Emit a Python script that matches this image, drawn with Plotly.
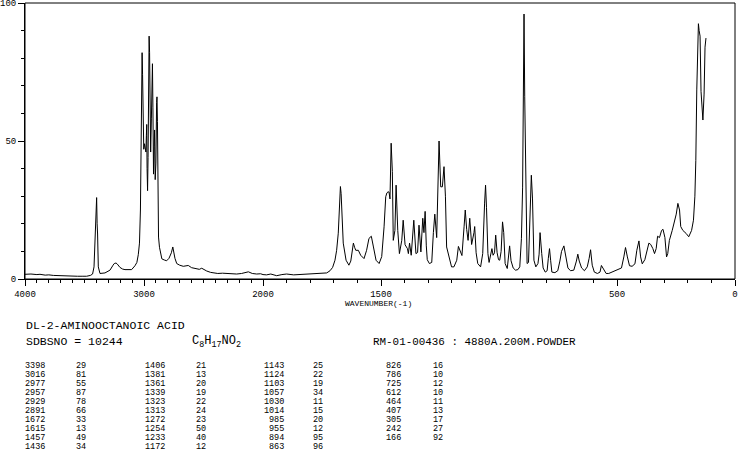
import plotly.graph_objects as go

# ---------------- data ----------------
WN_HIGH = [4000, 3950, 3900, 3874, 3830, 3800, 3762, 3720, 3690, 3650, 3600, 3560, 3520, 3482,
           3450, 3432, 3420, 3410, 3404, 3398, 3394, 3390, 3384, 3370, 3328, 3286, 3260, 3250,
           3235, 3224, 3202, 3180, 3160, 3104, 3076, 3060, 3048, 3038, 3030, 3022, 3018, 3016,
           3012, 3008, 3002, 2996, 2990, 2984, 2980, 2977, 2974, 2970, 2966, 2961, 2957, 2953,
           2948, 2944, 2938, 2932, 2929, 2925, 2920, 2915, 2911, 2906, 2900, 2894, 2891, 2887,
           2882, 2878, 2870, 2860, 2850, 2830, 2810, 2790, 2770, 2758, 2748, 2740, 2725, 2700,
           2670, 2645, 2628, 2600, 2580, 2557, 2535, 2515, 2495, 2473, 2440, 2417, 2380, 2340,
           2305, 2260, 2221, 2180, 2150, 2123, 2090, 2053, 2020, 2000]
INT_HIGH = [1.7, 1.8, 1.6, 1.7, 1.4, 1.5, 1.3, 1.2, 1.3, 1.0, 1.1, 1.0, 1.0, 1.0,
            1.3, 1.8, 4.4, 18.9, 26, 29.5, 20, 16.3, 4.4, 2.0, 2.2, 3.2, 5.0, 5.6,
            5.8, 5.4, 4.2, 3.6, 3.4, 3.4, 4.8, 6.0, 8.8, 13, 25, 60, 80, 82,
            74, 50, 47, 49, 48, 46, 52, 56, 40, 32, 44, 80, 88, 82,
            55, 46, 58, 76, 78, 62, 38, 48, 54, 36, 42, 64, 66, 57,
            30, 15.2, 11.5, 9.0, 7.3, 6.9, 6.6, 7.5, 9.5, 11.6, 9.0, 7.5, 5.6, 5.0,
            4.6, 4.7, 4.9, 4.1, 3.9, 3.8, 3.5, 3.9, 3.3, 2.9, 2.4, 2.2, 2.0, 2.1,
            2.0, 1.9, 1.8, 2.0, 2.3, 2.6, 2.0, 1.8, 1.9, 1.6]

WN_LOW = [2000, 1985, 1967, 1955, 1942, 1920, 1900, 1870, 1850, 1829, 1800, 1772, 1750, 1730,
          1716, 1705, 1695, 1688, 1681, 1677, 1674, 1672, 1669, 1665, 1660, 1648, 1636, 1628,
          1624, 1617, 1612, 1607, 1596, 1586, 1572, 1561, 1551, 1541, 1532, 1521, 1508, 1497,
          1487, 1480, 1475, 1470, 1466, 1462, 1457, 1452, 1448, 1441, 1436, 1429, 1422, 1412,
          1406, 1398, 1388, 1384, 1379, 1372, 1361, 1352, 1345, 1339, 1331, 1323, 1318, 1313,
          1308, 1304, 1295, 1285, 1278, 1272, 1264, 1258, 1254, 1247, 1240, 1233, 1227, 1222,
          1210, 1201, 1191, 1179, 1172, 1162, 1157, 1148, 1143, 1137, 1131, 1124, 1116, 1106,
          1103, 1097, 1090, 1078, 1069, 1061, 1057, 1053, 1047, 1042, 1036, 1030, 1025, 1019,
          1014, 1008, 1002, 997, 991, 985, 980, 974, 965, 960, 955, 949, 940, 930,
          920, 912, 905, 900, 897, 894, 891, 888, 884, 881, 875, 869, 866, 863,
          858, 852, 844, 835, 830, 826, 819, 813, 804, 796, 791, 786, 781, 776,
          763, 751, 742, 735, 725, 718, 708, 697, 683, 672, 666, 660, 650, 638,
          626, 618, 612, 605, 596, 583, 572, 566, 561, 555, 546, 535, 521, 499,
          481, 471, 464, 456, 447, 436, 424, 416, 407, 400, 393, 382, 372, 365,
          357, 348, 341, 334, 328, 320, 311, 305, 297, 290, 285, 278, 266, 256,
          249, 242, 235, 230, 221, 207, 196, 184, 176, 170, 166, 162, 158, 155,
          152, 148, 144, 140, 136, 131, 127, 123]
INT_LOW = [1.6, 1.5, 1.8, 1.4, 1.2, 1.6, 1.8, 1.5, 1.6, 1.7, 2.0, 2.0, 2.1, 2.2,
           3.0, 4.2, 6.8, 10.4, 16.6, 25, 31, 33.5, 31, 25, 13, 6.8, 5.0, 6.5,
           9.3, 13.0, 11.5, 10.4, 10.4, 8.6, 7.4, 10.4, 14.7, 15.5, 11.6, 6.8, 5.6, 8.1,
           18.9, 29.8, 31.2, 31.6, 31.5, 29, 49.2, 39, 14, 17.6, 34, 17.6, 9.2, 14,
           21.3, 12.4, 11, 9.2, 13, 8.6, 21.3, 9.2, 9.6, 19.5, 9.8, 22, 16.8, 24.5,
           12, 7, 5.6, 6, 16.8, 23.5, 15, 35.8, 50, 33.4, 33.4, 40.7, 30, 11.6,
           6.8, 4.4, 4.4, 6.8, 11.8, 9.2, 8.5, 18.9, 25, 18, 14, 22, 12.5, 16.8,
           19, 9.5, 5.6, 4.4, 9.2, 27.5, 34, 26, 9.2, 6, 8, 11, 8.6, 9.5,
           15.9, 9.5, 7, 6.8, 10, 20.7, 16.8, 5.6, 3.8, 7, 12, 6.6, 4, 3.2,
           3.4, 4.4, 14.6, 33, 82, 96, 66, 40, 12, 5.6, 6, 20, 33, 37.6,
           29, 6.8, 4.4, 5.6, 9, 16.8, 9.2, 4, 2.5, 3, 7.5, 11, 6.6, 2.5,
           2.3, 3, 6.5, 10, 12, 8.5, 4, 3, 3.2, 6.5, 9, 6.5, 4, 3,
           4.4, 7.5, 10.6, 5, 2.5, 2.0, 2.5, 4.9, 4.2, 3.0, 2.0, 2.0, 2.5, 3.2,
           4.0, 8, 11.4, 8, 4.8, 4.6, 5.5, 10.4, 13.8, 8, 5.5, 7, 10.4, 13,
           12.5, 11, 9.2, 11, 15.5, 15, 17.6, 18, 15, 8, 9.2, 14, 17.6, 21.3,
           23.5, 27.4, 25, 19, 17.6, 16.5, 15.3, 17.6, 21.3, 30, 43, 68.5, 89, 92.5,
           90, 88, 68, 61.2, 57.6, 67, 84, 87.3]

PEAK_WN = ["3398", "3016", "2977", "2957", "2929", "2891", "1672", "1615", "1457", "1436",
           "1406", "1381", "1361", "1339", "1323", "1313", "1272", "1254", "1233", "1172",
           "1143", "1124", "1103", "1057", "1030", "1014", "985", "955", "894", "863",
           "826", "786", "725", "612", "464", "407", "305", "242", "166"]
PEAK_INT = ["29", "81", "55", "87", "78", "66", "33", "13", "49", "34",
            "21", "13", "20", "19", "22", "24", "23", "50", "40", "12",
            "25", "22", "19", "34", "11", "15", "20", "12", "95", "96",
            "16", "10", "12", "10", "11", "13", "17", "27", "92"]

X_MAJOR_HIGH = [4000, 3000, 2000]
X_MAJOR_LOW = [1500, 500, 0]
Y_MAJOR = [0, 50, 100]

TITLE = "DL-2-AMINOOCTANOIC ACID"
SDBS = "SDBSNO = 10244"
FORMULA = "C<sub>8</sub>H<sub>17</sub>NO<sub>2</sub>"
INFO = "RM-01-00436 : 4880A.200M.POWDER"
XLABEL = "WAVENUMBER(-1)"

# ---------------- layout geometry ----------------
W, H = 738, 457
L, R, T, B = 25, 3, 3, 178
PW = W - L - R
PH = H - T - B
SPLIT = 238 / PW
MONO = "Liberation Mono"


def px(x):
    return (x - L) / PW


def py(y):
    return (H - B - y) / PH


fig = go.Figure()
fig.add_trace(go.Scatter(x=WN_HIGH, y=INT_HIGH, mode="lines", xaxis="x", yaxis="y",
                         line=dict(color="black", width=1), showlegend=False, hoverinfo="skip"))
fig.add_trace(go.Scatter(x=WN_LOW, y=INT_LOW, mode="lines", xaxis="x2", yaxis="y",
                         line=dict(color="black", width=1), showlegend=False, hoverinfo="skip"))

axis_common = dict(showline=True, linecolor="black", linewidth=1, ticks="outside",
                   ticklen=6, tickwidth=1, tickcolor="black", showgrid=False, zeroline=False,
                   automargin=False, ticklabeloverflow="allow",
                   tickfont=dict(family=MONO, size=9, color="black"), fixedrange=True)

fig.update_layout(
    width=W, height=H, margin=dict(l=L, r=R, t=T, b=B, autoexpand=False),
    paper_bgcolor="white", plot_bgcolor="white", showlegend=False,
    xaxis=dict(domain=[0, SPLIT], range=[4000, 2000], anchor="y",
               tickvals=X_MAJOR_HIGH, ticktext=[str(v) for v in X_MAJOR_HIGH],
               minor=dict(dtick=100, ticklen=3, ticks="outside", tickcolor="black"),
               **axis_common),
    xaxis2=dict(domain=[SPLIT, 1], range=[2000, 0], anchor="y",
                tickvals=X_MAJOR_LOW, ticktext=[str(v) for v in X_MAJOR_LOW],
                minor=dict(dtick=100, ticklen=3, ticks="outside", tickcolor="black"),
                **axis_common),
    yaxis=dict(domain=[0, 1], range=[0, 100], anchor="x",
               tickvals=Y_MAJOR, ticktext=[str(v) for v in Y_MAJOR],
               minor=dict(dtick=10, ticklen=3, ticks="outside", tickcolor="black"),
               **axis_common),
    shapes=[dict(type="rect", xref="paper", yref="paper", x0=0, x1=1, y0=0, y1=1,
                 line=dict(color="black", width=1), layer="above")],
)

ann = []


def text(x, y, s, size, xanchor="left"):
    ann.append(dict(x=px(x), y=py(y), xref="paper", yref="paper", text=s, showarrow=False,
                    xanchor=xanchor, yanchor="middle",
                    font=dict(family=MONO, size=size, color="black")))


text(378, 303.5, XLABEL, 8, "center")
text(24, 325, TITLE, 11.5)
text(24, 341.5, SDBS, 11.5)
text(190, 341.5, FORMULA, 12)
text(371, 341.5, INFO, 10.9)

col_wn_right = [47, 167, 286, 403]
col_int_left = [74, 194, 311, 431]
for i, (w, v) in enumerate(zip(PEAK_WN, PEAK_INT)):
    c, r = divmod(i, 10)
    y = 366 + r * 9
    text(col_wn_right[c], y, w, 8.5, "right")
    text(col_int_left[c], y, v, 8.5, "left")

fig.update_layout(annotations=ann)
fig.write_html("out.html", config={"displayModeBar": False})
